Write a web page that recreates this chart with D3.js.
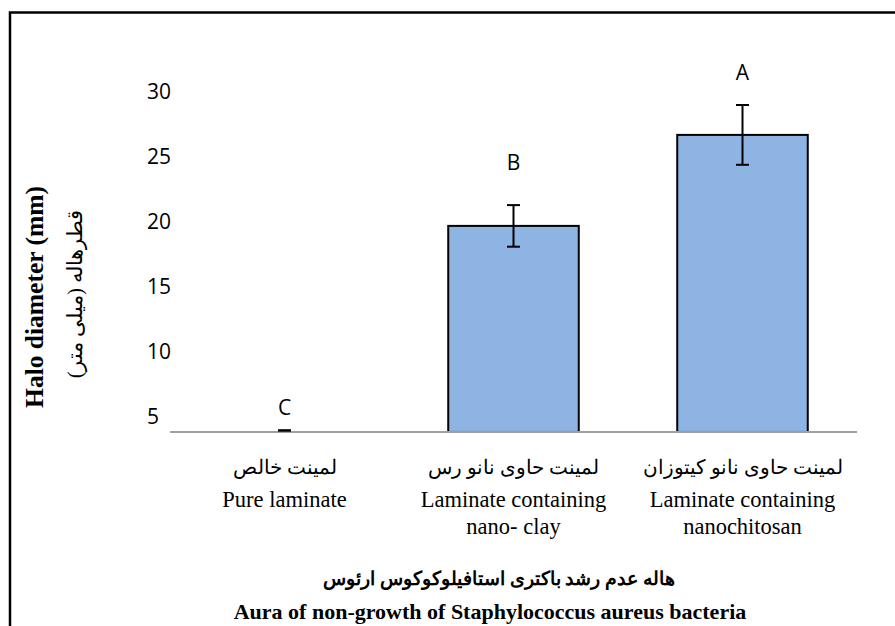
<!DOCTYPE html>
<html>
<head>
<meta charset="utf-8">
<script src="https://cdn.jsdelivr.net/npm/d3@7/dist/d3.min.js"></script>
<style>
  html, body { margin: 0; padding: 0; background: #fff; }
  svg { display: block; }
</style>
</head>
<body>
<svg id="chart" width="895" height="626"></svg>
<script>
// Halo diameter (mm) for each laminate treatment
const categories = ["pure", "clay", "chitosan"];
const labelsFa = ["لمینت خالص", "لمینت حاوی نانو رس", "لمینت حاوی نانو کیتوزان"];
const labelsEn = [["Pure laminate"], ["Laminate containing", "nano- clay"], ["Laminate containing", "nanochitosan"]];
const values = [0, 19.7, 26.7];
const errors = [0, 1.6, 2.3];
const letters = ["C", "B", "A"];
const letterAt = [5.7, 24.6, 31.5];   // value level where each significance letter sits
const yTicks = [5, 10, 15, 20, 25, 30];
const yMin = 3.85;

const svg = d3.select("#chart");
const W = 895, H = 626;
const left = 170, right = 857;

const x = d3.scaleBand().domain(categories).range([left, right])
  .paddingInner(0.43).paddingOuter(0.215);
const y = d3.scaleLinear().domain([5, 30]).range([417, 92]);
const base = y(yMin);

// frame
svg.append("path")
  .attr("d", `M10,${H} L10,12.5 L${W},12.5`)
  .attr("fill", "none").attr("stroke", "#000").attr("stroke-width", 2.5);

// y axis labels (no line, no ticks)
const yAxis = svg.append("g").attr("transform", "translate(147,0)")
  .call(d3.axisLeft(y).tickValues(yTicks).tickSize(0).tickPadding(0));
yAxis.select(".domain").remove();
yAxis.selectAll("text")
  .attr("text-anchor", "start").attr("x", 0)
  .style("font-family", "'Open Sans', sans-serif").style("font-size", "21px").attr("fill", "#000");

// bars
const rows = categories.map((c, i) => ({ c, v: values[i], e: errors[i], l: letters[i], la: letterAt[i] }));
const clampY = v => Math.min(base, y(v));

svg.append("g").selectAll("rect").data(rows.filter(d => d.v > yMin)).join("rect")
  .attr("x", d => x(d.c)).attr("width", x.bandwidth())
  .attr("y", d => y(d.v)).attr("height", d => base - y(d.v))
  .attr("fill", "#8EB4E3").attr("stroke", "#000").attr("stroke-width", 2);

// x axis line
const xAxis = svg.append("g").attr("transform", `translate(0,${base})`)
  .call(d3.axisBottom(x).tickSize(0).tickFormat(""));
xAxis.select(".domain").attr("stroke", "#A0A0A0").attr("stroke-width", 2)
  .attr("d", `M${left},0H${right}`);

// error bars
const cap = 6.5;
const eb = svg.append("g").attr("stroke", "#000").attr("stroke-width", 2);
rows.forEach(d => {
  const cx = x(d.c) + x.bandwidth() / 2;
  const lift = d.v > yMin ? 0 : 1.5;
  const t = clampY(d.v + d.e) - lift, b = clampY(d.v - d.e) - lift;
  eb.append("line").attr("x1", cx).attr("x2", cx).attr("y1", t).attr("y2", b);
  eb.append("line").attr("x1", cx - cap).attr("x2", cx + cap).attr("y1", t).attr("y2", t);
  eb.append("line").attr("x1", cx - cap).attr("x2", cx + cap).attr("y1", b).attr("y2", b);
});

// significance letters
svg.append("g").selectAll("text").data(rows).join("text")
  .attr("x", d => x(d.c) + x.bandwidth() / 2).attr("y", d => y(d.la))
  .attr("dy", "0.35em").attr("text-anchor", "middle")
  .style("font-family", "'Open Sans', sans-serif").style("font-size", "21px")
  .text(d => d.l);

// category labels
const serif = "'Liberation Serif', 'DejaVu Serif', serif";
const catG = svg.append("g").attr("text-anchor", "middle");
rows.forEach((d, i) => {
  const cx = x(d.c) + x.bandwidth() / 2;
  catG.append("text").attr("x", cx).attr("y", 474).attr("direction", "rtl")
    .style("font-family", serif).style("font-size", "20px").text(labelsFa[i]);
  labelsEn[i].forEach((s, k) => {
    catG.append("text").attr("x", cx).attr("y", 507 + k * 27)
      .style("font-family", serif).style("font-size", "22.5px").text(s);
  });
});

// x axis titles
svg.append("text").attr("x", 499).attr("y", 585).attr("text-anchor", "middle")
  .attr("direction", "rtl").style("font-family", serif).style("font-size", "18.5px")
  .style("font-weight", "bold").text("هاله عدم رشد باکتری استافیلوکوکوس ارئوس");
svg.append("text").attr("x", 490).attr("y", 619).attr("text-anchor", "middle")
  .style("font-family", serif).style("font-size", "22px")
  .style("font-weight", "bold").text("Aura of non-growth of Staphylococcus aureus bacteria");

// y axis titles
svg.append("text").attr("transform", "translate(43,297) rotate(-90)")
  .attr("text-anchor", "middle").style("font-family", serif).style("font-size", "25.5px")
  .style("font-weight", "bold").text("Halo diameter (mm)");
svg.append("text").attr("transform", "translate(82,294) rotate(-90)")
  .attr("text-anchor", "middle").attr("direction", "rtl").style("font-family", serif)
  .style("font-size", "21px").text("قطرهاله (میلی متر)");
</script>
</body>
</html>
